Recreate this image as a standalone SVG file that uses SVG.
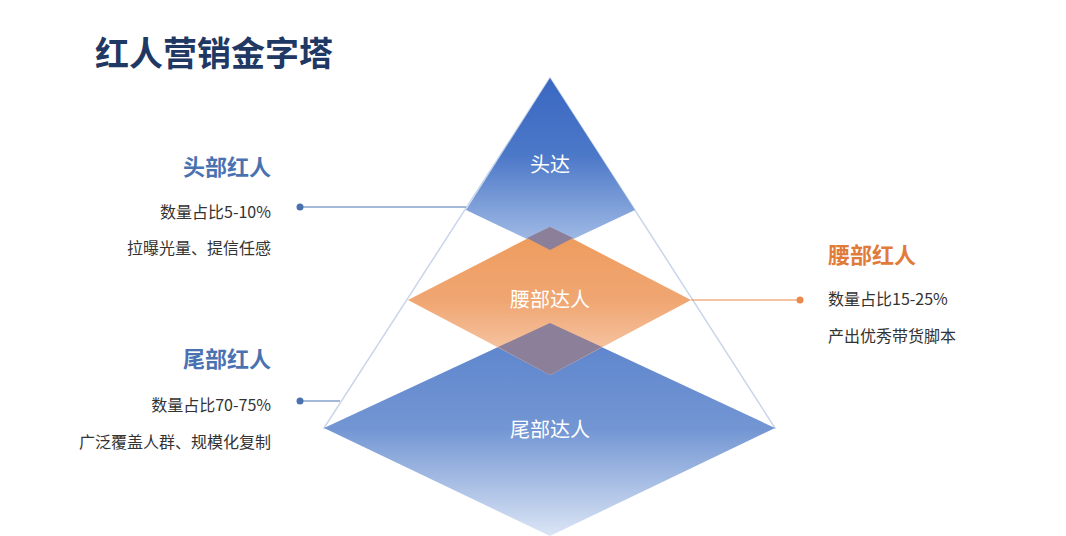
<svg xmlns="http://www.w3.org/2000/svg" width="1066" height="536" viewBox="0 0 1066 536">
<style>
text{font-family:"Noto Sans CJK SC","Noto Sans",sans-serif}
.lab{font-size:16px;fill:#333}
.node{font-size:20px;fill:#fff;text-anchor:middle}
.hb{font-size:22px;font-weight:bold;fill:#4a72b0}
</style>
<defs>
<linearGradient id="gt" x1="0" y1="0" x2="0" y2="1"><stop offset="0" stop-color="#3a68c2"/><stop offset="0.45" stop-color="#4c78c8"/><stop offset="1" stop-color="#a9c1e8"/></linearGradient>
<linearGradient id="gm" x1="0" y1="0" x2="0" y2="1"><stop offset="0" stop-color="#ee9b5c"/><stop offset="0.5" stop-color="#f0a672"/><stop offset="1" stop-color="#f8d2b8"/></linearGradient>
<linearGradient id="gb" x1="0" y1="0" x2="0" y2="1"><stop offset="0" stop-color="#5a82cc"/><stop offset="0.5" stop-color="#7396d3"/><stop offset="1" stop-color="#dbe5f5"/></linearGradient>
</defs>
<rect width="1066" height="536" fill="#fff"/>
<text x="95" y="66" font-size="34" font-weight="bold" fill="#1f3864">红人营销金字塔</text>
<polygon points="550,78 775,428 324,428" fill="none" stroke="#c9d6ea" stroke-width="1.5"/>
<g id="connectors">
<line x1="300" y1="207" x2="466" y2="207" stroke="#4a72b0" stroke-width="1.2"/>
<circle cx="300" cy="207" r="3.5" fill="#4a72b0"/>
<line x1="300" y1="401" x2="340" y2="401" stroke="#4a72b0" stroke-width="1.2"/>
<circle cx="300" cy="401" r="3.5" fill="#4a72b0"/>
<line x1="691" y1="300" x2="800" y2="300" stroke="#e98a4c" stroke-width="1.2"/>
<circle cx="800" cy="300" r="3.5" fill="#e98a4c"/>
</g>
<g id="top"><polygon points="550,78 635,210 550,250 466,210" fill="url(#gt)"/><text class="node" x="550" y="172">头达</text></g>
<g id="bottom"><polygon points="550,323 775,428 550,536 324,428" fill="url(#gb)"/><text class="node" x="550" y="437">尾部达人</text></g>
<g id="middle"><polygon points="550,227 691,300 550,375 408,300" fill="url(#gm)"/><text class="node" x="550" y="307">腰部达人</text></g>
<polygon points="550,227 573,238 550,250 527,238" fill="#8c7f9a"/>
<polygon points="550,323 602,347 550,375 498,347" fill="#8c7f9a"/>
<g id="head">
<text class="hb" x="271" y="175" text-anchor="end">头部红人</text>
<text class="lab" x="271" y="218" text-anchor="end">数量占比5-10%</text>
<text class="lab" x="271" y="254" text-anchor="end">拉曝光量、提信任感</text>
</g>
<g id="tail">
<text class="hb" x="271" y="367" text-anchor="end">尾部红人</text>
<text class="lab" x="271" y="411" text-anchor="end">数量占比70-75%</text>
<text class="lab" x="271" y="448" text-anchor="end">广泛覆盖人群、规模化复制</text>
</g>
<g id="waist">
<text class="hb" x="828" y="263" style="fill:#e07b39">腰部红人</text>
<text class="lab" x="828" y="305">数量占比15-25%</text>
<text class="lab" x="828" y="342">产出优秀带货脚本</text>
</g>
</svg>
